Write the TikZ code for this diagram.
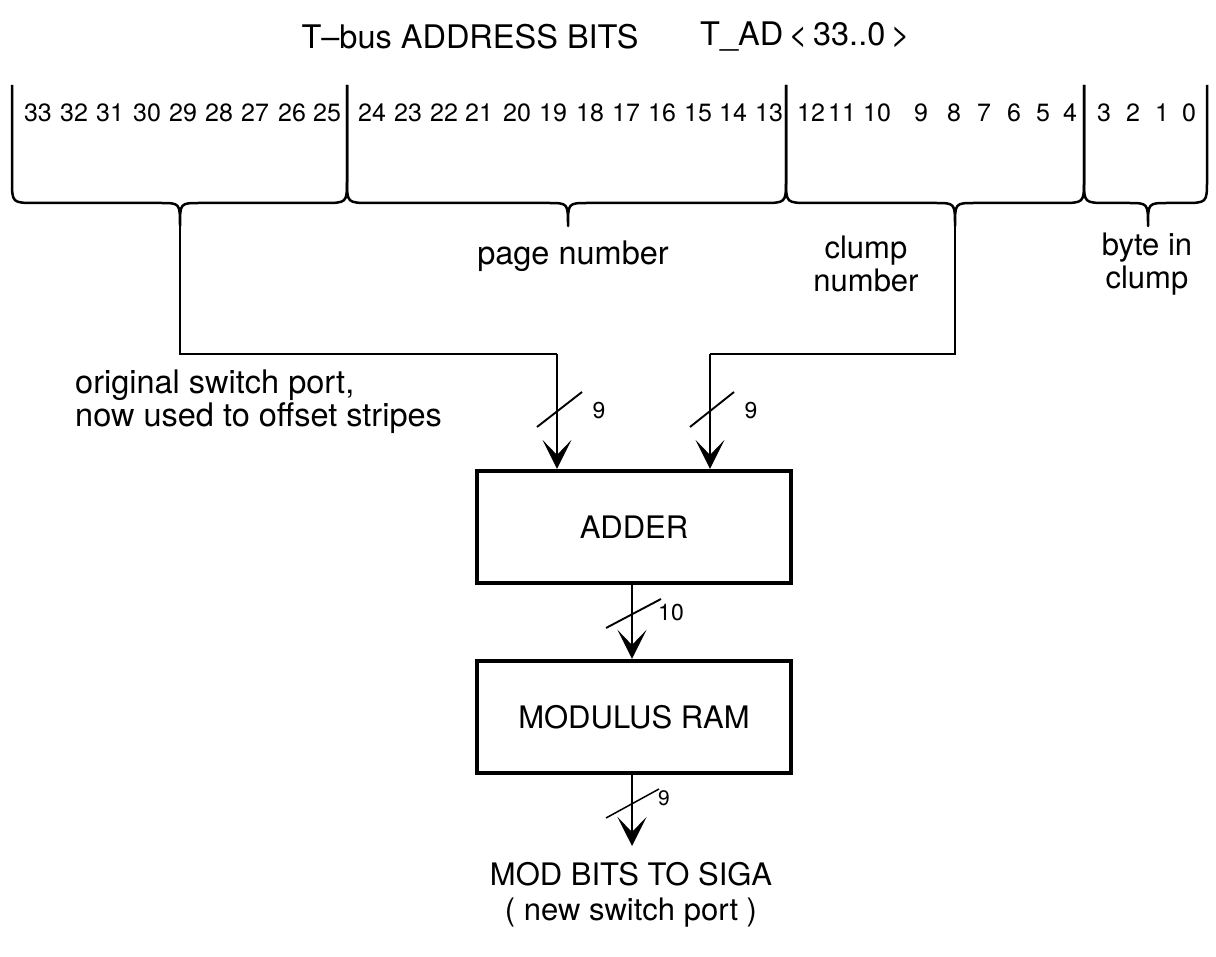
\documentclass[tikz,border=0pt]{standalone}
\usepackage{fontspec}
\setmainfont{TeX Gyre Heros}
\usetikzlibrary{arrows.meta,calc}
\begin{document}
\begin{tikzpicture}[x=1pt,y=-1pt,
  digit/.style={inner sep=0pt,font=\fontsize{25}{30}\selectfont},
  txt/.style={inner sep=0pt,font=\fontsize{31}{33}\selectfont},
  big/.style={inner sep=0pt,font=\fontsize{32.5}{33}\selectfont},
  small/.style={inner sep=0pt,font=\fontsize{23}{25}\selectfont},
  brace/.style={line width=2.5pt},
  conn/.style={line width=2.3pt},
  arr/.style={line width=2.3pt,-{Stealth[length=29pt,width=29pt,inset=15pt]}},
  slash/.style={line width=1.9pt},
  blk/.style={draw,line width=4.2pt,minimum width=314pt,minimum height=112pt,inner sep=0pt,font=\fontsize{31}{33}\selectfont}]
\useasboundingbox (0,0) rectangle (1216,957);

% title
\node[big] (title1) at (470,37) {T--bus ADDRESS BITS};
\node[big] (title2) at (805,37) {T\_AD\,<\,33..0\,>};

% bit numbers
\foreach \n/\x in {33/38,32/74,31/110,30/147,29/183,28/219,27/255,26/292,25/327,
  24/372,23/408,22/444,21/479,20/517,19/553,18/590,17/626,16/662,15/698,14/733,13/769,
  12/811,11/842,10/877,9/921,8/954,7/984,6/1014,5/1043,4/1070,
  3/1104,2/1133,1/1162,0/1189}
  \node[digit] (bit\n) at (\x,113) {\n};

% braces
\foreach \l/\m/\r/\k in {12/180/347/1, 347/568/786/2, 786/955/1084/3, 1084/1148/1207/4}{
  \draw[brace,line join=round] (\l,85) -- (\l,180) .. controls (\l,203) .. (\l+24,203)
     -- (\m-20,203) .. controls (\m,203) .. (\m,226)
     .. controls (\m,203) .. (\m+20,203) -- (\r-24,203)
     .. controls (\r,203) .. (\r,180) -- (\r,85);
  \coordinate (tip\k) at (\m,226);
}

% field labels
\node[big] (page) at (573,256) {page number};
\node[txt,align=center] (clump) at (866,264) {clump\\number};
\node[txt,align=center] (byte) at (1147,264) {byte in\\clump};
\node[big,align=left,anchor=west] (orig) at (75,402) {original switch port,\\now used to offset stripes};

% blocks
\node[blk] (adder) at (634,527) {ADDER};
\node[blk] (modram) at (634,717) {MODULUS RAM};

% connectors
\coordinate (j1) at (557,354);
\coordinate (j3) at (710,354);
\draw[conn] (tip1) |- (j1);
\draw[arr] (j1) -- (j1 |- adder.north);
\draw[conn] (tip3) |- (j3);
\draw[arr] (j3) -- (j3 |- adder.north);
\draw[arr] (adder.south -| 632,0) -- (modram.north -| 632,0);
\coordinate (outend) at (632,846);
\draw[arr] (modram.south -| 632,0) -- (outend);

% bus-width slashes
\draw[slash] (537,427) -- (582,392);
\node[small] (w1) at (599,411) {9};
\draw[slash] (690,427) -- (734,392);
\node[small] (w2) at (751,411) {9};
\draw[slash] (606,628) -- (661,599);
\node[small] (w3) at (671,613) {10};
\draw[slash,line width=1.5pt] (606,818) -- (659,789);
\node[small,font=\fontsize{21}{22}\selectfont] (w4) at (664,798) {9};

% output label
\node[txt,align=center,font=\fontsize{31}{35}\selectfont] (out) at (631,895) {MOD BITS TO SIGA\\( new switch port )};
\end{tikzpicture}
\end{document}
